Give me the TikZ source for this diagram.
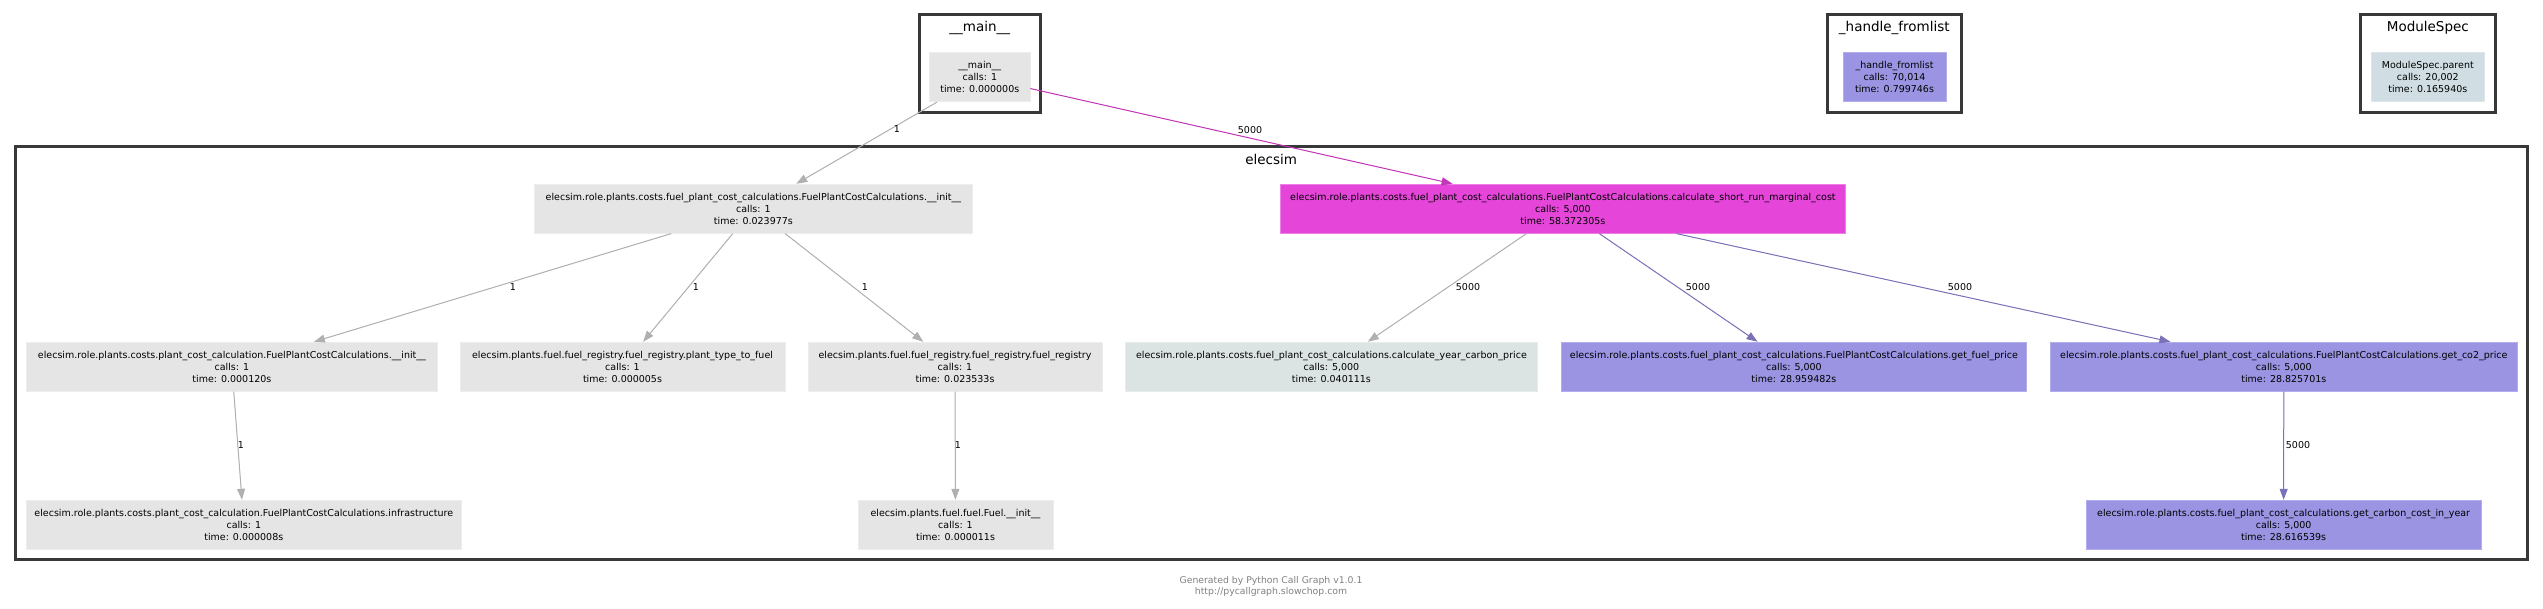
\documentclass[tikz,border=0pt]{standalone}
\usepackage{fontspec}
\setmainfont{DejaVu Sans}
\usetikzlibrary{arrows.meta}
\definecolor{gnode}{HTML}{E5E5E5}
\definecolor{gnodeb}{HTML}{EDEDED}
\definecolor{magnode}{HTML}{E545D9}
\definecolor{magnodeb}{HTML}{EE7FE6}
\definecolor{purnode}{HTML}{9A94E3}
\definecolor{purnodeb}{HTML}{B2ADEC}
\definecolor{enode}{HTML}{DCE3E3}
\definecolor{enodeb}{HTML}{E6EBEB}
\definecolor{msnode}{HTML}{D0DEE3}
\definecolor{msnodeb}{HTML}{DCE6EA}
\definecolor{grayedge}{HTML}{B0B0B0}
\definecolor{magedge}{HTML}{C237B8}
\definecolor{puredge}{HTML}{7A72B8}
\definecolor{clborder}{HTML}{383838}
\definecolor{footgray}{HTML}{808080}
\begin{document}
\begin{tikzpicture}[x=1pt,y=-1pt,
  fn/.style={rectangle, inner sep=0pt, align=center, text=black, line width=0.8pt,
    font=\fontsize{9.5}{11.8}\selectfont, minimum height=49pt},
  gfn/.style={fn, fill=gnode, draw=gnodeb},
  mfn/.style={fn, fill=magnode, draw=magnodeb},
  pfn/.style={fn, fill=purnode, draw=purnodeb},
  efn/.style={fn, fill=enode, draw=enodeb},
  sfn/.style={fn, fill=msnode, draw=msnodeb},
  clbox/.style={draw=clborder, line width=3pt, fill=none, inner sep=0pt},
  cltitle/.style={font=\fontsize{13.5}{15}\selectfont, inner sep=0pt, text=black},
  elab/.style={font=\fontsize{9.5}{11}\selectfont, inner sep=0pt, text=black},
  edgebase/.style={line width=1pt, -{Triangle[length=11pt,width=8pt]}},
  geg/.style={edgebase, draw=grayedge, fill=grayedge},
  meg/.style={edgebase, draw=magedge, fill=magedge},
  peg/.style={edgebase, draw=puredge, fill=puredge},
  foot/.style={font=\fontsize{9.3}{11.5}\selectfont, text=footgray, align=center, inner sep=0pt}
]
\useasboundingbox (0,0) rectangle (2543,609);

% clusters
\node[clbox, minimum width=120.9pt, minimum height=97.7pt] (cmain) at (979.85,63.85) {};
\node[cltitle] (tmain) at (979.8,27.7) {\_\_main\_\_};
\node[clbox, minimum width=134.5pt, minimum height=97.7pt] (chf) at (1894.25,63.85) {};
\node[cltitle] (thf) at (1894.3,27.7) {\_handle\_fromlist};
\node[clbox, minimum width=134.5pt, minimum height=97.7pt] (cms) at (2427.75,63.85) {};
\node[cltitle] (tms) at (2427.8,27.7) {ModuleSpec};
\node[clbox, minimum width=2511.6pt, minimum height=412.6pt] (celec) at (1271.2,353) {};
\node[cltitle] (telec) at (1271.2,159.5) {elecsim};

% nodes
\node[gfn, minimum width=100.4pt] (main) at (979.8,77.2) {\_\_main\_\_\\calls: 1\\time: 0.000000s};
\node[pfn, minimum width=103pt] (hf) at (1894.5,77.2) {\_handle\_fromlist\\calls: 70,014\\time: 0.799746s};
\node[sfn, minimum width=113.6pt] (ms) at (2427.8,77.2) {ModuleSpec.parent\\calls: 20,002\\time: 0.165940s};

\node[gfn, minimum width=437.8pt] (A) at (753.4,208.7) {elecsim.role.plants.costs.fuel\_plant\_cost\_calculations.FuelPlantCostCalculations.\_\_init\_\_\\calls: 1\\time: 0.023977s};
\node[mfn, minimum width=565pt] (M) at (1562.9,208.7) {elecsim.role.plants.costs.fuel\_plant\_cost\_calculations.FuelPlantCostCalculations.calculate\_short\_run\_marginal\_cost\\calls: 5,000\\time: 58.372305s};

\node[gfn, minimum width=410.3pt] (B) at (231.9,366.7) {elecsim.role.plants.costs.plant\_cost\_calculation.FuelPlantCostCalculations.\_\_init\_\_\\calls: 1\\time: 0.000120s};
\node[gfn, minimum width=325pt] (C) at (622.5,366.7) {elecsim.plants.fuel.fuel\_registry.fuel\_registry.plant\_type\_to\_fuel\\calls: 1\\time: 0.000005s};
\node[gfn, minimum width=294pt] (D) at (955,366.7) {elecsim.plants.fuel.fuel\_registry.fuel\_registry.fuel\_registry\\calls: 1\\time: 0.023533s};
\node[efn, minimum width=411.2pt] (E) at (1331.4,366.7) {elecsim.role.plants.costs.fuel\_plant\_cost\_calculations.calculate\_year\_carbon\_price\\calls: 5,000\\time: 0.040111s};
\node[pfn, minimum width=465.8pt] (F) at (1793.9,366.7) {elecsim.role.plants.costs.fuel\_plant\_cost\_calculations.FuelPlantCostCalculations.get\_fuel\_price\\calls: 5,000\\time: 28.959482s};
\node[pfn, minimum width=466.4pt] (G) at (2283.8,366.7) {elecsim.role.plants.costs.fuel\_plant\_cost\_calculations.FuelPlantCostCalculations.get\_co2\_price\\calls: 5,000\\time: 28.825701s};

\node[gfn, minimum width=434.5pt] (H) at (243.8,524.7) {elecsim.role.plants.costs.plant\_cost\_calculation.FuelPlantCostCalculations.infrastructure\\calls: 1\\time: 0.000008s};
\node[gfn, minimum width=195pt] (I) at (955.5,524.7) {elecsim.plants.fuel.fuel.Fuel.\_\_init\_\_\\calls: 1\\time: 0.000011s};
\node[pfn, minimum width=395pt] (J) at (2283.6,524.7) {elecsim.role.plants.costs.fuel\_plant\_cost\_calculations.get\_carbon\_cost\_in\_year\\calls: 5,000\\time: 28.616539s};

% edges
\draw[geg] (main) -- (A);
\draw[meg] (main) -- (M);
\draw[geg] (A) -- (B);
\draw[geg] (A) -- (C);
\draw[geg] (A) -- (D);
\draw[geg] (M) -- (E);
\draw[peg] (M) -- (F);
\draw[peg] (M) -- (G);
\draw[geg] (B) -- (H);
\draw[geg] (D) -- (I);
\draw[peg] (G) -- (J);

% edge labels
\node[elab] (l1) at (897,129) {1};
\node[elab] (l2) at (1250,130) {5000};
\node[elab] (l3) at (513,287) {1};
\node[elab] (l4) at (696,287) {1};
\node[elab] (l5) at (865,287) {1};
\node[elab] (l6) at (1468,287) {5000};
\node[elab] (l7) at (1698,287) {5000};
\node[elab] (l8) at (1960,287) {5000};
\node[elab] (l9) at (241,445) {1};
\node[elab] (l10) at (958,445) {1};
\node[elab] (l11) at (2298,445) {5000};

% footer
\node[foot] (footer) at (1271,586.5) {Generated by Python Call Graph v1.0.1\\http://pycallgraph.slowchop.com};
\end{tikzpicture}
\end{document}
